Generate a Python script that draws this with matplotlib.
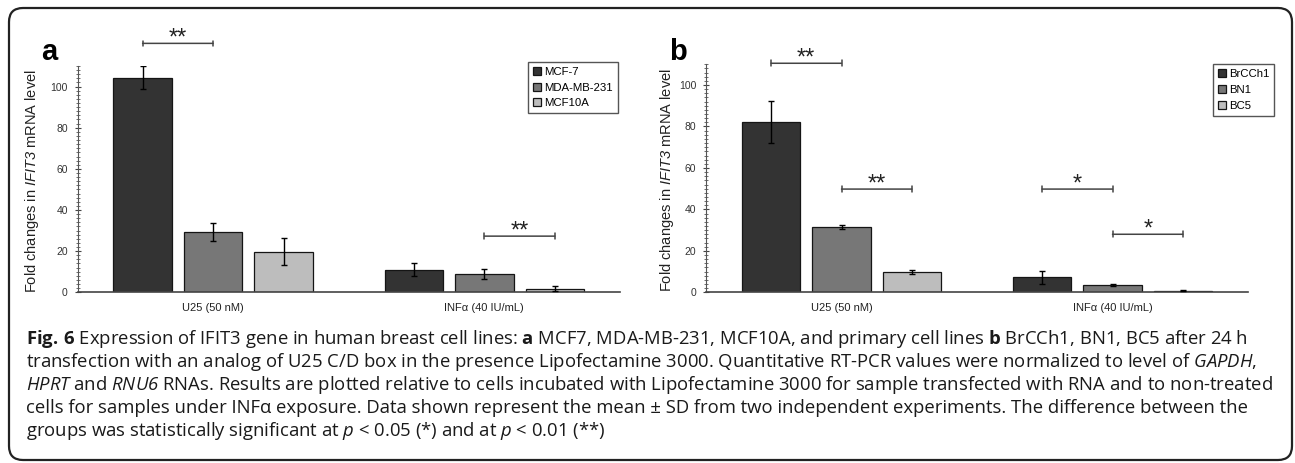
import numpy as np
import matplotlib
matplotlib.use("Agg")
import matplotlib.pyplot as plt
from matplotlib.patches import FancyBboxPatch
from matplotlib.ticker import MultipleLocator

plt.rcParams['font.family'] = ['Liberation Sans', 'DejaVu Sans']
plt.rcParams['mathtext.fontset'] = 'custom'
plt.rcParams['mathtext.rm'] = 'Open Sans'
plt.rcParams['mathtext.it'] = 'Open Sans:italic'
plt.rcParams['mathtext.cal'] = 'Open Sans:italic'
plt.rcParams['mathtext.bf'] = 'Open Sans:bold'
plt.rcParams['mathtext.sf'] = 'Liberation Sans:italic'

W, H = 1295, 463

# data
treatments = ["U25 (50 nM)", "INF\u03b1 (40 IU/mL)"]

lines_a = ["MCF-7", "MDA-MB-231", "MCF10A"]
mean_a = [[104.4, 11.0], [29.5, 8.8], [19.8, 1.8]]
sd_a = [[5.6, 3.3], [4.4, 2.3], [6.5, 1.1]]
# (group, bar from, bar to, height, stars)
sig_a = [(0, 0, 1, 121, "**"), (1, 1, 2, 27.3, "**")]

lines_b = ["BrCCh1", "BN1", "BC5"]
mean_b = [[82.2, 7.2], [31.6, 3.4], [9.8, 0.8]]
sd_b = [[10.0, 3.3], [0.9, 0.4], [1.0, 0.3]]
sig_b = [(0, 0, 1, 110.5, "**"), (0, 1, 2, 49.8, "**"),
         (1, 0, 1, 49.8, "*"), (1, 1, 2, 28.0, "*")]

colors = ["#333333", "#777777", "#bdbdbd"]

# \mathcal is mapped to Open Sans italic (keeps digits italic too)
caption = [
    r"$\mathbf{Fig.\,6}$ Expression of IFIT3 gene in human breast cell lines: $\mathbf{a}$ MCF7, "
    r"MDA-MB-231, MCF10A, and primary cell lines $\mathbf{b}$ BrCCh1, BN1, BC5 after 24 h",
    r"transfection with an analog of U25 C/D box in the presence Lipofectamine 3000. Quantitative RT-PCR values "
    r"were normalized to level of $\mathcal{GAPDH}$,",
    r"$\mathcal{HPRT}$ and $\mathcal{RNU6}$ RNAs. Results are plotted relative to cells incubated with "
    r"Lipofectamine 3000 for sample transfected with RNA and to non-treated",
    "cells for samples under INF\u03b1 exposure. Data shown represent the mean \u00b1 SD from two independent "
    "experiments. The difference between the",
    r"groups was statistically significant at $\mathcal{p}$ < 0.05 (*) and at $\mathcal{p}$ < 0.01 (**)",
]


def px(x, y):
    return x / W, (H - y) / H


def draw_panel(ax, means, sds, names, sigs):
    x = np.arange(len(treatments))
    width = 0.215
    step = 0.26
    for i, name in enumerate(names):
        pos = x + (i - 1) * step
        ax.bar(pos, means[i], width, color=colors[i], edgecolor="#151515", linewidth=0.9, label=name,
               zorder=2)
        ax.errorbar(pos, means[i], yerr=sds[i], fmt="none", ecolor="black", elinewidth=1.0,
                    capsize=2.2, capthick=1.0, zorder=3)
    for g, b0, b1, h, stars in sigs:
        x0 = x[g] + (b0 - 1) * step
        x1 = x[g] + (b1 - 1) * step
        ax.annotate("", xy=(x0, h), xytext=(x1, h), annotation_clip=False,
                    arrowprops=dict(arrowstyle="|-|, widthA=0.2, widthB=0.2", color="#444444", lw=1.1,
                                    shrinkA=0, shrinkB=0))
        ax.annotate(stars, ((x0 + x1) / 2, h), xytext=(0, -1), textcoords="offset points",
                    ha="center", va="baseline", fontsize=17, color="#222222", annotation_clip=False)

    ax.set_xlim(-0.5, 1.5)
    ax.set_ylim(0, 110)
    ax.set_xticks(x)
    ax.set_xticklabels(treatments, fontsize=8, color="#222222")
    ax.tick_params(axis="x", length=0, pad=8)
    ax.yaxis.set_major_locator(MultipleLocator(20))
    ax.yaxis.set_minor_locator(MultipleLocator(2))
    ax.tick_params(axis="y", which="major", length=4, width=0.8, direction="inout", labelsize=7.5,
                   colors="#444444", labelcolor="#333333", pad=5)
    ax.tick_params(axis="y", which="minor", length=2.5, width=0.6, direction="inout", colors="#555555")
    for side in ["top", "right"]:
        ax.spines[side].set_visible(False)
    ax.spines["left"].set_color("#555555")
    ax.spines["bottom"].set_color("#444444")
    ax.spines["bottom"].set_linewidth(1.2)
    ax.set_ylabel("Fold changes in $\\mathsf{IFIT3}$ mRNA level", fontsize=10.5, color="#222222")


def add_legend(ax, anchor):
    ax.legend(loc="upper right", bbox_to_anchor=px(*anchor), bbox_transform=fig.transFigure,
              fontsize=8.2, fancybox=False, edgecolor="#555555", framealpha=1, handlelength=0.7,
              handleheight=0.7, handletextpad=0.25, borderpad=0.45, labelspacing=0.5, borderaxespad=0)


fig = plt.figure(figsize=(W / 100, H / 100), dpi=100)

ax_a = fig.add_axes([77.5 / W, (H - 292.3) / H, 542.5 / W, 226.3 / H])
draw_panel(ax_a, mean_a, sd_a, lines_a, sig_a)
ax_a.yaxis.set_label_coords(-0.067, 0.49)
add_legend(ax_a, (618, 61.7))
fig.text(*px(41, 60), "a", fontsize=21, fontweight="bold", va="baseline")

ax_b = fig.add_axes([706 / W, (H - 292.3) / H, 542 / W, 228 / H])
draw_panel(ax_b, mean_b, sd_b, lines_b, sig_b)
ax_b.yaxis.set_label_coords(-0.055, 0.49)
add_legend(ax_b, (1274.4, 64))
fig.text(*px(669, 60), "b", fontsize=21, fontweight="bold", va="baseline")

# caption: size fitted so the fourth line has the reference width
renderer = fig.canvas.get_renderer()
cap_font = ["Open Sans", "DejaVu Sans"]
probe = fig.text(0, 0, caption[3], fontsize=10, family=cap_font)
size = 10 * 1217 / probe.get_window_extent(renderer).width
probe.remove()

for i, line in enumerate(caption):
    fig.text(*px(26, 343.5 + 23.2 * i), line, fontsize=size, family=cap_font, color="#1a1a1a",
             va="baseline")

border = FancyBboxPatch((9, H - 460), 1283, 452, boxstyle="round,pad=0,rounding_size=14",
                        transform=None, facecolor="none", edgecolor="#222222", linewidth=1.6)
fig.add_artist(border)

fig.savefig("out.png", dpi=100)
